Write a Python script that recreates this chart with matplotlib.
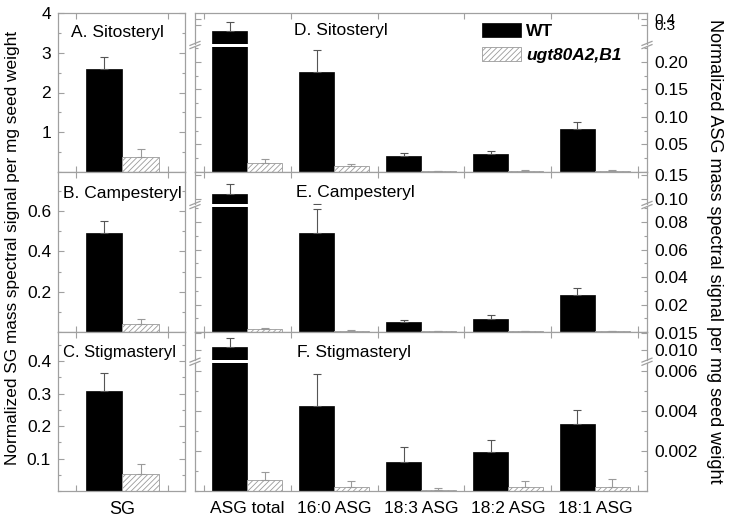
import numpy as np
import matplotlib
matplotlib.use('Agg')
import matplotlib.pyplot as plt
from matplotlib.lines import Line2D
from matplotlib.ticker import MultipleLocator

plt.rcParams['font.family'] = ['Liberation Sans', 'DejaVu Sans']
plt.rcParams['hatch.linewidth'] = 0.6
plt.rcParams['hatch.color'] = '#9a9a9a'

# ---------------- data ----------------
series = ['WT', 'ugt80A2,B1']
sg_categories = ['SG']
asg_categories = ['ASG total', '16:0 ASG', '18:3 ASG', '18:2 ASG', '18:1 ASG']
sg_titles = ['A. Sitosteryl', 'B. Campesteryl', 'C. Stigmasteryl']
asg_titles = ['D. Sitosteryl', 'E. Campesteryl', 'F. Stigmasteryl']

# SG (panels A, B, C): sitosteryl, campesteryl, stigmasteryl
sg_wt = [2.58, 0.49, 0.308]
sg_wt_err = [0.32, 0.06, 0.056]
sg_mut = [0.38, 0.04, 0.053]
sg_mut_err = [0.19, 0.023, 0.031]

# ASG panel D (sitosteryl)
asg_sito_wt = [0.278, 0.182, 0.0297, 0.032, 0.0776]
asg_sito_wt_err = [0.065, 0.040, 0.005, 0.0056, 0.0134]
asg_sito_mut = [0.0164, 0.011, 0.001, 0.002, 0.002]
asg_sito_mut_err = [0.0066, 0.0035, 0.0005, 0.001, 0.001]

# ASG panel E (campesteryl)
asg_campe_wt = [0.111, 0.0722, 0.00705, 0.0097, 0.0269]
asg_campe_wt_err = [0.020, 0.0175, 0.0019, 0.0024, 0.0049]
asg_campe_mut = [0.002, 0.001, 0.0005, 0.0005, 0.0005]
asg_campe_mut_err = [0.0009, 0.0005, 0.0003, 0.0003, 0.0003]

# ASG panel F (stigmasteryl)
asg_stig_wt = [0.011, 0.00427, 0.00145, 0.00193, 0.00338]
asg_stig_wt_err = [0.0025, 0.0016, 0.00075, 0.0006, 0.0007]
asg_stig_mut = [0.00057, 0.00018, 0.00007, 0.00018, 0.00018]
asg_stig_mut_err = [0.0004, 0.0003, 0.0001, 0.0003, 0.0004]

# tick values / labels
sg_ticks = [[1, 2, 3, 4], [0.2, 0.4, 0.6], [0.1, 0.2, 0.3, 0.4]]
sg_tick_labels = [['1', '2', '3', '4'], ['0.2', '0.4', '0.6'], ['0.1', '0.2', '0.3', '0.4']]
asg_lower_ticks = [[0.05, 0.10, 0.15, 0.20], [0.02, 0.04, 0.06, 0.08], [0.002, 0.004, 0.006]]
asg_lower_labels = [['0.05', '0.10', '0.15', '0.20'], ['0.02', '0.04', '0.06', '0.08'],
                    ['0.002', '0.004', '0.006']]
asg_upper_ticks = [[0.3, 0.4], [0.10, 0.15], [0.010, 0.015]]
asg_upper_labels = [['0.3', '0.4'], ['0.10', '0.15'], ['0.010', '0.015']]

left_ylabel = 'Normalized SG mass spectral signal per mg seed weight'
right_ylabel = 'Normalized ASG mass spectral signal per mg seed weight'

# ---------------- layout ----------------
W, H = 729, 521
GRAY = '#a0a0a0'
fig = plt.figure(figsize=(W / 100, H / 100), dpi=100)


def fx(px):
    return px / W


def fy(py):
    return 1 - py / H


def rect(x0, x1, y0, y1):
    return [fx(x0), fy(y1), fx(x1) - fx(x0), fy(y0) - fy(y1)]


LX0, LX1 = 58, 185
RX0, RX1 = 195, 647
rows = [(13, 172), (172, 332), (332, 491)]
breaks = [45, 205, 361.7]
GAP = 1.5

sg_ylims = [(0, 4), (0, 0.795), (0, 0.49)]
sg_minor = [0.5, 0.1, 0.05]
lower_ylims = [(0, 0.228), (0, 0.0913), (0, 0.0064)]
lower_minor = [0.025, 0.01, 0.001]
upper_ylims = [(0.23, 0.48), (0.09, 0.157), (0.00695, 0.0154)]

sg_data = [(sg_wt[i], sg_wt_err[i], sg_mut[i], sg_mut_err[i]) for i in range(3)]
asg_data = [
    (asg_sito_wt, asg_sito_wt_err, asg_sito_mut, asg_sito_mut_err),
    (asg_campe_wt, asg_campe_wt_err, asg_campe_mut, asg_campe_mut_err),
    (asg_stig_wt, asg_stig_wt_err, asg_stig_mut, asg_stig_mut_err),
]

BW = 0.4


def style_axes(ax):
    for s in ax.spines.values():
        s.set_color(GRAY)
        s.set_linewidth(0.9)
    ax.tick_params(which='both', direction='in', color=GRAY, labelsize=12.5)
    ax.tick_params(which='major', length=4, width=0.8)
    ax.tick_params(which='minor', length=2.5, width=0.8)


def draw_bars(ax, wt, wt_err, mut, mut_err):
    wt = np.atleast_1d(wt)
    mut = np.atleast_1d(mut)
    x = np.arange(len(wt))
    z = np.zeros(len(wt))
    b1 = ax.bar(x - BW / 2, wt, BW, color='black', edgecolor='black', linewidth=0.5,
                yerr=[z, np.atleast_1d(wt_err)],
                error_kw=dict(ecolor='#555555', elinewidth=0.8, capsize=3, capthick=0.8),
                label=series[0])
    b2 = ax.bar(x + BW / 2, mut, BW, color='white', edgecolor='#9a9a9a', linewidth=0.6,
                hatch='//////', yerr=[z, np.atleast_1d(mut_err)],
                error_kw=dict(ecolor='#9a9a9a', elinewidth=0.8, capsize=3, capthick=0.8),
                label=series[1])
    return b1, b2


def break_mark(x, y):
    for d in (-1.6, 1.6):
        fig.add_artist(Line2D([fx(x - 5), fx(x + 5)], [fy(y + d + 2), fy(y + d - 2)],
                              color=GRAY, lw=0.9, transform=fig.transFigure))


# function scale for the top segment of panel D
d_vals = [-1.0, 0.23, 0.3, 0.4, 0.48, 2.0]
d_pix = [-324.7, 0.0, 18.5, 24.8, 30.5, 138.7]


def d_forward(v):
    return np.interp(v, d_vals, d_pix)


def d_inverse(p):
    return np.interp(p, d_pix, d_vals)


handles = None
for i in range(3):
    top, bot = rows[i]
    # ---- left SG panel ----
    ax = fig.add_axes(rect(LX0, LX1, top, bot))
    style_axes(ax)
    wt, we, mu, me = sg_data[i]
    draw_bars(ax, [wt], [we], [mu], [me])
    ax.set_xlim(-0.7, 0.68)
    ax.set_ylim(*sg_ylims[i])
    ax.set_yticks(sg_ticks[i], sg_tick_labels[i])
    ax.yaxis.set_minor_locator(MultipleLocator(sg_minor[i]))
    ax.set_xticks([-0.5, 0.5], ['', ''])
    ax.tick_params(axis='y', which='both', left=True, right=True, labelleft=True, pad=5)
    ax.tick_params(axis='x', which='both', top=True, bottom=True)
    if i == 2:
        ax.set_xticks([0], sg_categories, minor=True)
        ax.tick_params(axis='x', which='minor', length=0, labelsize=13, pad=7)
    fig.text(fx(63 if i else 71), fy([33, 193, 352][i]), sg_titles[i],
             fontsize=[12.5, 12.5, 12][i], ha='left', va='center')

    # ---- right ASG panel: lower and upper segments ----
    yb = breaks[i]
    axl = fig.add_axes(rect(RX0, RX1, yb + GAP, bot))
    axu = fig.add_axes(rect(RX0, RX1, top, yb - GAP))
    wt, we, mu, me = asg_data[i]
    n = len(asg_categories)
    bounds = np.arange(n + 1) - 0.5
    for a in (axl, axu):
        style_axes(a)
        h = draw_bars(a, wt, we, mu, me)
        if handles is None:
            handles = h
        a.set_xlim(-0.6, 4.6)
        a.tick_params(axis='y', which='both', left=True, right=True,
                      labelleft=False, labelright=True, pad=5)
    if i == 0:
        axu.set_yscale('function', functions=(d_forward, d_inverse))
    axl.set_ylim(*lower_ylims[i])
    axu.set_ylim(*upper_ylims[i])
    axl.set_yticks(asg_lower_ticks[i], asg_lower_labels[i])
    axl.yaxis.set_minor_locator(MultipleLocator(lower_minor[i]))
    axu.set_yticks(asg_upper_ticks[i], asg_upper_labels[i])
    axu.yaxis.set_minor_locator(plt.NullLocator())
    if i == 0:
        axu.tick_params(axis='y', labelsize=11)
    axl.spines['top'].set_visible(False)
    axu.spines['bottom'].set_visible(False)
    axl.set_xticks(bounds, [''] * len(bounds))
    axl.tick_params(axis='x', which='both', top=False, bottom=True)
    axu.set_xticks(bounds, [''] * len(bounds))
    axu.tick_params(axis='x', which='both', top=True, bottom=False)
    if i == 2:
        axl.set_xticks(np.arange(n), asg_categories, minor=True)
        axl.tick_params(axis='x', which='minor', length=0, labelsize=12.5, pad=7)
    break_mark(RX0, yb)
    break_mark(RX1, yb)
    fig.text(fx([294, 296, 297][i]), fy([31, 192, 352][i]), asg_titles[i], fontsize=12.5,
             ha='left', va='center')

fig.text(fx(13), fy(248), left_ylabel, rotation=90, fontsize=12.4, ha='center', va='center')
fig.text(fx(714), fy(251), right_ylabel, rotation=270, fontsize=13, ha='center', va='center')

leg = fig.legend(handles=list(handles), labels=series, loc='upper left',
                 bbox_to_anchor=(fx(482), fy(23)), frameon=False,
                 prop={'weight': 'bold', 'size': 12.5}, handlelength=2.25,
                 handleheight=0.85, handletextpad=0.3, labelspacing=0.45,
                 borderaxespad=0, borderpad=0)
leg.get_texts()[1].set_fontstyle('italic')

fig.savefig('out.png', dpi=100)
